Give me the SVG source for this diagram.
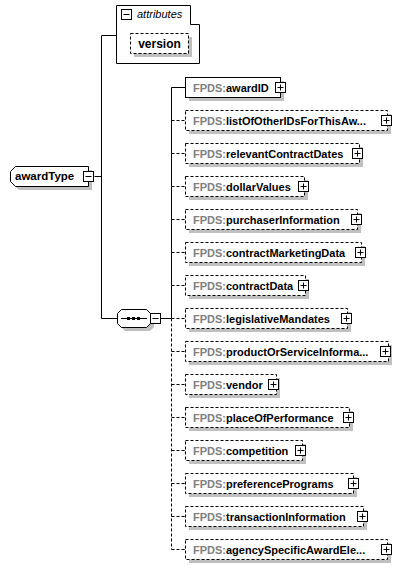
<svg xmlns="http://www.w3.org/2000/svg" width="401" height="569" viewBox="0 0 401 569">
<style>
.bg{fill:#fff}
.sh{fill:#c0c0c0}
.box{fill:#fff;stroke:#000;stroke-width:1}
.dbox{fill:#fff;stroke:#000;stroke-width:1;stroke-dasharray:3 2}
.ln{fill:none;stroke:#000;stroke-width:1}
.dln{fill:none;stroke:#000;stroke-width:1;stroke-dasharray:3 2}
.btn{fill:#fff;stroke:#000;stroke-width:1}
.t{font-family:"Liberation Sans",Arial,sans-serif;font-size:11px;font-weight:bold;fill:#000}
.ns{fill:#808080}
.it{font-family:"Liberation Sans",Arial,sans-serif;font-size:11px;font-style:italic;fill:#000}
</style>
<rect class="bg" x="0" y="0" width="401" height="569"/>
<g id="connectors">
<path class="ln" d="M94.5 176.5H101.5M101.5 35.5V318.5M101.5 35.5H116M101.5 318.5H117"/>
<path class="ln" d="M161 318.5H171M171.5 87.5V318.5M171.5 87.5H185"/>
<path class="dln" d="M171.5 318.5V549.5"/>
<path class="dln" d="M171.5 120.5H185M171.5 153.5H185M171.5 186.5H185M171.5 219.5H185M171.5 252.5H185M171.5 285.5H185M171.5 318.5H185M171.5 351.5H185M171.5 384.5H185M171.5 417.5H185M171.5 450.5H185M171.5 483.5H185M171.5 516.5H185M171.5 549.5H185"/>
</g>
<g id="attributes">
<path class="box" d="M116.5 5.5H190.5V24.5H199.5V63.5H116.5Z"/>
<rect class="btn" x="121.5" y="9.5" width="10" height="10"/>
<path class="ln" d="M123.5 14.5H129.5"/>
<text class="it" x="137" y="18">attributes</text>
<g id="version">
<rect class="sh" x="134" y="37" width="58" height="20"/>
<rect class="dbox" x="130.5" y="33.5" width="58" height="20"/>
<text class="t" x="159.5" y="48" text-anchor="middle" style="font-size:12px">version</text>
</g>
</g>
<g id="awardType">
<path class="sh" d="M19 170H92V190H19L14 185V175Z"/>
<path class="box" d="M15.5 166.5H88.5V186.5H15.5L10.5 181.5V171.5Z"/>
<text class="t" x="15" y="180" style="font-size:11.5px">awardType</text>
<rect class="btn" x="83.5" y="171.5" width="10" height="10"/>
<path class="ln" d="M85.5 176.5H91.5"/>
</g>
<g id="sequence">
<path class="sh" d="M125 313H150L154 317V327L150 331H125L121 327V317Z"/>
<path class="box" d="M121.5 309.5H146.5L150.5 313.5V323.5L146.5 327.5H121.5L117.5 323.5V313.5Z"/>
<path class="ln" d="M121 318.5H147"/>
<rect x="127" y="317" width="3" height="3" fill="#000"/>
<rect x="132" y="317" width="3" height="3" fill="#000"/>
<rect x="137" y="317" width="3" height="3" fill="#000"/>
<rect class="btn" x="150.5" y="313.5" width="10" height="10"/>
<path class="ln" d="M152.5 318.5H158.5"/>
</g>
<g id="awardID">
<rect class="sh" x="189" y="81" width="95" height="20"/>
<rect class="box" x="185.5" y="77.5" width="95" height="20"/>
<text class="t" x="193" y="92"><tspan class="ns">FPDS:</tspan>awardID</text>
<rect class="btn" x="275.5" y="82.5" width="10" height="10"/><path class="ln" d="M277.5 87.5H283.5M280.5 84.5V90.5"/>
</g>
<g id="listOfOtherIDsForThisAward">
<rect class="sh" x="189" y="114" width="202" height="20"/>
<rect class="dbox" x="185.5" y="110.5" width="202" height="20"/>
<text class="t" x="193" y="125"><tspan class="ns">FPDS:</tspan>listOfOtherIDsForThisAw...</text>
<rect class="btn" x="381.5" y="115.5" width="10" height="10"/><path class="ln" d="M383.5 120.5H389.5M386.5 117.5V123.5"/>
</g>
<g id="relevantContractDates">
<rect class="sh" x="189" y="147" width="174" height="20"/>
<rect class="dbox" x="185.5" y="143.5" width="174" height="20"/>
<text class="t" x="193" y="158"><tspan class="ns">FPDS:</tspan>relevantContractDates</text>
<rect class="btn" x="352.5" y="148.5" width="10" height="10"/><path class="ln" d="M354.5 153.5H360.5M357.5 150.5V156.5"/>
</g>
<g id="dollarValues">
<rect class="sh" x="189" y="180" width="119" height="20"/>
<rect class="dbox" x="185.5" y="176.5" width="119" height="20"/>
<text class="t" x="193" y="191"><tspan class="ns">FPDS:</tspan>dollarValues</text>
<rect class="btn" x="298.5" y="181.5" width="10" height="10"/><path class="ln" d="M300.5 186.5H306.5M303.5 183.5V189.5"/>
</g>
<g id="purchaserInformation">
<rect class="sh" x="189" y="213" width="172" height="20"/>
<rect class="dbox" x="185.5" y="209.5" width="172" height="20"/>
<text class="t" x="193" y="224"><tspan class="ns">FPDS:</tspan>purchaserInformation</text>
<rect class="btn" x="351.5" y="214.5" width="10" height="10"/><path class="ln" d="M353.5 219.5H359.5M356.5 216.5V222.5"/>
</g>
<g id="contractMarketingData">
<rect class="sh" x="189" y="246" width="176" height="20"/>
<rect class="dbox" x="185.5" y="242.5" width="176" height="20"/>
<text class="t" x="193" y="257"><tspan class="ns">FPDS:</tspan>contractMarketingData</text>
<rect class="btn" x="355.5" y="247.5" width="10" height="10"/><path class="ln" d="M357.5 252.5H363.5M360.5 249.5V255.5"/>
</g>
<g id="contractData">
<rect class="sh" x="189" y="279" width="120" height="20"/>
<rect class="dbox" x="185.5" y="275.5" width="120" height="20"/>
<text class="t" x="193" y="290"><tspan class="ns">FPDS:</tspan>contractData</text>
<rect class="btn" x="298.5" y="280.5" width="10" height="10"/><path class="ln" d="M300.5 285.5H306.5M303.5 282.5V288.5"/>
</g>
<g id="legislativeMandates">
<rect class="sh" x="189" y="312" width="162" height="20"/>
<rect class="dbox" x="185.5" y="308.5" width="162" height="20"/>
<text class="t" x="193" y="323"><tspan class="ns">FPDS:</tspan>legislativeMandates</text>
<rect class="btn" x="341.5" y="313.5" width="10" height="10"/><path class="ln" d="M343.5 318.5H349.5M346.5 315.5V321.5"/>
</g>
<g id="productOrServiceInformation">
<rect class="sh" x="189" y="345" width="203" height="20"/>
<rect class="dbox" x="185.5" y="341.5" width="203" height="20"/>
<text class="t" x="193" y="356"><tspan class="ns">FPDS:</tspan>productOrServiceInforma...</text>
<rect class="btn" x="380.5" y="346.5" width="10" height="10"/><path class="ln" d="M382.5 351.5H388.5M385.5 348.5V354.5"/>
</g>
<g id="vendor">
<rect class="sh" x="189" y="378" width="91" height="20"/>
<rect class="dbox" x="185.5" y="374.5" width="91" height="20"/>
<text class="t" x="193" y="389"><tspan class="ns">FPDS:</tspan>vendor</text>
<rect class="btn" x="268.5" y="379.5" width="10" height="10"/><path class="ln" d="M270.5 384.5H276.5M273.5 381.5V387.5"/>
</g>
<g id="placeOfPerformance">
<rect class="sh" x="189" y="411" width="164" height="20"/>
<rect class="dbox" x="185.5" y="407.5" width="164" height="20"/>
<text class="t" x="193" y="422"><tspan class="ns">FPDS:</tspan>placeOfPerformance</text>
<rect class="btn" x="343.5" y="412.5" width="10" height="10"/><path class="ln" d="M345.5 417.5H351.5M348.5 414.5V420.5"/>
</g>
<g id="competition">
<rect class="sh" x="189" y="444" width="117" height="20"/>
<rect class="dbox" x="185.5" y="440.5" width="117" height="20"/>
<text class="t" x="193" y="455"><tspan class="ns">FPDS:</tspan>competition</text>
<rect class="btn" x="295.5" y="445.5" width="10" height="10"/><path class="ln" d="M297.5 450.5H303.5M300.5 447.5V453.5"/>
</g>
<g id="preferencePrograms">
<rect class="sh" x="189" y="477" width="168" height="20"/>
<rect class="dbox" x="185.5" y="473.5" width="168" height="20"/>
<text class="t" x="193" y="488"><tspan class="ns">FPDS:</tspan>preferencePrograms</text>
<rect class="btn" x="348.5" y="478.5" width="10" height="10"/><path class="ln" d="M350.5 483.5H356.5M353.5 480.5V486.5"/>
</g>
<g id="transactionInformation">
<rect class="sh" x="189" y="510" width="178" height="20"/>
<rect class="dbox" x="185.5" y="506.5" width="178" height="20"/>
<text class="t" x="193" y="521"><tspan class="ns">FPDS:</tspan>transactionInformation</text>
<rect class="btn" x="357.5" y="511.5" width="10" height="10"/><path class="ln" d="M359.5 516.5H365.5M362.5 513.5V519.5"/>
</g>
<g id="agencySpecificAwardElements">
<rect class="sh" x="189" y="543" width="202" height="20"/>
<rect class="dbox" x="185.5" y="539.5" width="202" height="20"/>
<text class="t" x="193" y="554"><tspan class="ns">FPDS:</tspan>agencySpecificAwardEle...</text>
<rect class="btn" x="381.5" y="544.5" width="10" height="10"/><path class="ln" d="M383.5 549.5H389.5M386.5 546.5V552.5"/>
</g>
</svg>
